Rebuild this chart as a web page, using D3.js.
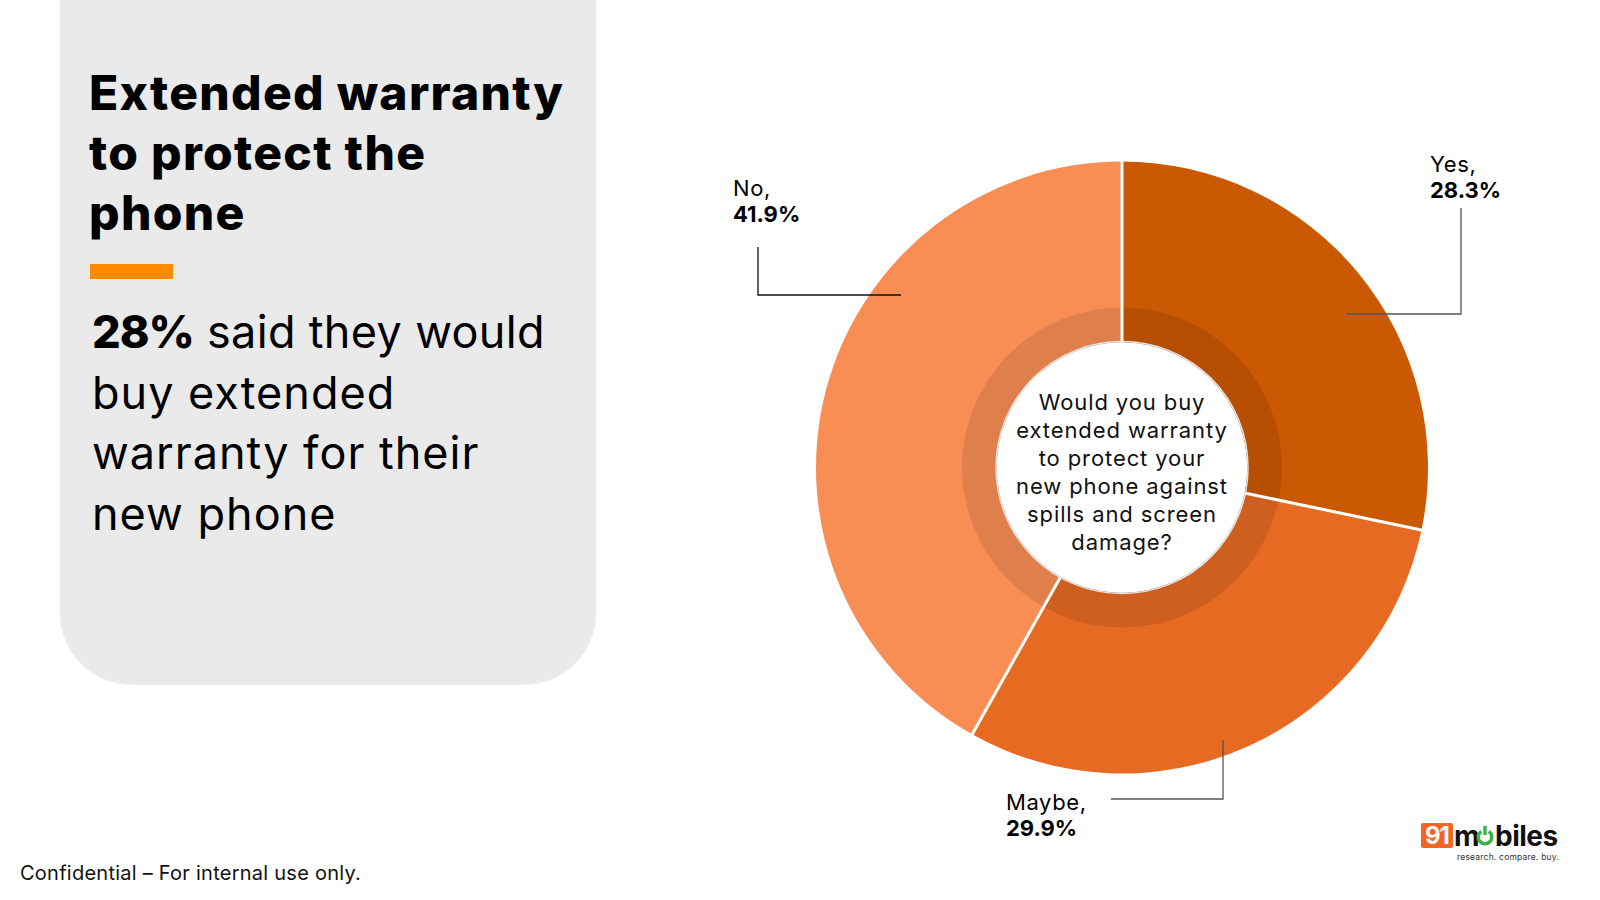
<!DOCTYPE html>
<html>
<head>
  <meta charset="utf-8">
  <title>Extended warranty</title>
  <script src="https://d3js.org/d3.v7.min.js"></script>
  <style>
    body { margin: 0; background: #fff; }
    svg { display: block; font-family: Inter, "Noto Sans", sans-serif; }
  </style>
</head>
<body>
  <div id="chart"></div>
  <script>
    // Datos del gráfico
    const categories = ["Yes", "Maybe", "No"];
    const shares = [28.3, 29.9, 41.9];
    const question = ["Would you buy", "extended warranty", "to protect your",
                      "new phone against", "spills and screen", "damage?"];
    const titleLines = ["Extended warranty", "to protect the", "phone"];
    const subLines = ["said they would", "buy extended", "warranty for their", "new phone"];
    const highlight = "28%";

    const width = 1600, height = 900;
    const cx = 1122, cy = 467.5;
    const outerR = 306, innerR = 125, shadeR = 160;

    const color = d3.scaleOrdinal()
      .domain(categories)
      .range(["#CB5903", "#E76A23", "#F98E55"]);

    const svg = d3.select("#chart").append("svg")
      .attr("width", width)
      .attr("height", height);

    // Panel izquierdo
    const panel = d3.path();
    const px0 = 60, px1 = 596, py1 = 685, rad = 72;
    panel.moveTo(px0, -10);
    panel.lineTo(px1, -10);
    panel.lineTo(px1, py1 - rad);
    panel.arcTo(px1, py1, px1 - rad, py1, rad);
    panel.lineTo(px0 + rad, py1);
    panel.arcTo(px0, py1, px0, py1 - rad, rad);
    panel.closePath();
    svg.append("path").attr("d", panel.toString()).attr("fill", "#EAEAEA");

    const title = svg.append("text")
      .attr("font-size", 48).attr("font-weight", 800).attr("fill", "#000")
      .attr("letter-spacing", 1.3);
    titleLines.forEach((t, i) => {
      title.append("tspan").attr("x", 89).attr("y", 110 + i * 60).text(t);
    });

    svg.append("rect").attr("x", 90).attr("y", 264).attr("width", 83).attr("height", 15)
      .attr("fill", "#FF8A00");

    const sub = svg.append("text").attr("font-size", 45).attr("fill", "#000");
    subLines.forEach((t, i) => {
      const line = sub.append("tspan").attr("x", 92).attr("y", 348 + i * 60.5);
      if (i === 0) {
        line.append("tspan").attr("font-weight", 800).attr("letter-spacing", -1).text(highlight);
        line.append("tspan").attr("letter-spacing", 0.35).text(" " + t);
      } else {
        line.attr("letter-spacing", 1.0).text(t);
      }
    });

    svg.append("text").attr("x", 20).attr("y", 880).attr("font-size", 20)
      .attr("letter-spacing", 0.25)
      .attr("fill", "#111").text("Confidential \u2013 For internal use only.");

    // Donut
    const pie = d3.pie().sort(null).value(d => d);
    const arcs = pie(shares);
    const arc = d3.arc().innerRadius(innerR).outerRadius(outerR);
    const shade = d3.arc().innerRadius(innerR).outerRadius(shadeR);

    const g = svg.append("g").attr("transform", `translate(${cx},${cy})`);

    g.selectAll("path.slice")
      .data(arcs)
      .join("path")
      .attr("class", "slice")
      .attr("d", arc)
      .attr("fill", (d, i) => color(categories[i]));

    g.selectAll("path.shade")
      .data(arcs)
      .join("path")
      .attr("class", "shade")
      .attr("d", shade)
      .attr("fill", "#000")
      .attr("fill-opacity", 0.1);

    // Separadores blancos
    g.selectAll("line.sep")
      .data(arcs)
      .join("line")
      .attr("class", "sep")
      .attr("x1", d => innerR * Math.sin(d.startAngle))
      .attr("y1", d => -innerR * Math.cos(d.startAngle))
      .attr("x2", d => (outerR + 1) * Math.sin(d.startAngle))
      .attr("y2", d => -(outerR + 1) * Math.cos(d.startAngle))
      .attr("stroke", "#fff")
      .attr("stroke-width", 3);

    g.append("circle").attr("r", innerR).attr("fill", "#fff");
    g.append("circle").attr("r", innerR + 1).attr("fill", "none")
      .attr("stroke", "#e4e4e4").attr("stroke-width", 1.5);

    const q = g.append("text").attr("text-anchor", "middle").attr("font-size", 22)
      .attr("letter-spacing", 0.9).attr("fill", "#111");
    question.forEach((t, i) => {
      q.append("tspan").attr("x", 0).attr("y", -57.5 + i * 28).text(t);
    });

    // Etiquetas con líneas guía
    const labelLayout = {
      "Yes":   { start: [224, -153.5], path: [[339, -153.5], [339, -259.5]], text: [308, -295.5], stroke: "#555" },
      "Maybe": { start: [101, 272.5],  path: [[101, 331.5], [-11, 331.5]],  text: [-116, 342.5], stroke: "#555" },
      "No":    { start: [-221, -172.5], path: [[-364, -172.5], [-364, -220.5]], text: [-389, -271.5], stroke: "#111" }
    };

    categories.forEach((c, i) => {
      const L = labelLayout[c];
      g.append("path")
        .attr("d", d3.line()([L.start, ...L.path]))
        .attr("fill", "none")
        .attr("stroke", L.stroke)
        .attr("stroke-width", 1.3);
      const t = g.append("text").attr("font-size", 22).attr("fill", "#000");
      t.append("tspan").attr("x", L.text[0]).attr("y", L.text[1])
        .attr("letter-spacing", 0.6).text(c + ",");
      t.append("tspan").attr("x", L.text[0]).attr("y", L.text[1] + 26)
        .attr("font-weight", 700).text(d3.format(".1f")(shares[i]) + "%");
    });

    // Logo
    const logo = svg.append("g").attr("transform", "translate(1421,823)");
    logo.append("rect").attr("width", 32).attr("height", 25).attr("rx", 2).attr("fill", "#F26522");
    logo.append("text").attr("x", 16).attr("y", 21).attr("text-anchor", "middle")
      .attr("font-size", 24).attr("font-weight", 700).attr("fill", "#fff")
      .attr("letter-spacing", -1).text("91");
    logo.append("text").attr("x", 33).attr("y", 23).attr("font-size", 28).attr("font-weight", 700)
      .attr("fill", "#111").attr("letter-spacing", -0.5).text("m");
    const pw = logo.append("g").attr("transform", "translate(64,14)");
    pw.append("path").attr("d", d3.arc().innerRadius(5).outerRadius(8.5).startAngle(0.6).endAngle(2 * Math.PI - 0.6)())
      .attr("fill", "#39B54A");
    pw.append("rect").attr("x", -1.7).attr("y", -11).attr("width", 3.4).attr("height", 9).attr("fill", "#39B54A");
    logo.append("text").attr("x", 74).attr("y", 23).attr("font-size", 28).attr("font-weight", 700)
      .attr("fill", "#111").attr("letter-spacing", -0.5).text("biles");
    logo.append("text").attr("x", 36).attr("y", 37).attr("font-size", 8.5)
      .attr("fill", "#333").attr("letter-spacing", 0.2).text("research. compare. buy.");
  </script>
</body>
</html>
